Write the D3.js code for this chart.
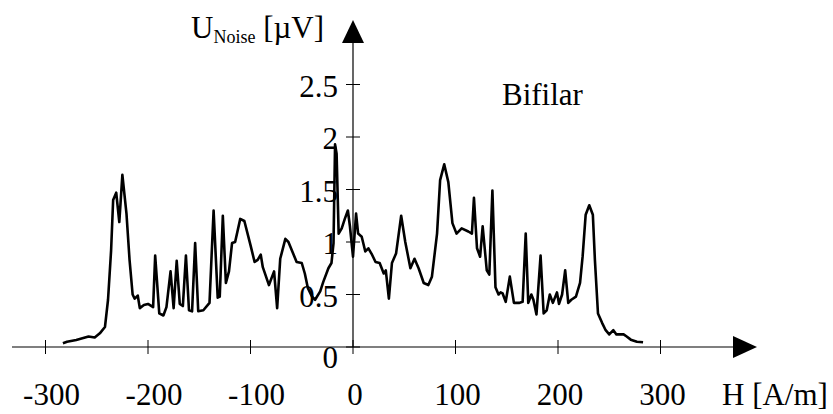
<!DOCTYPE html>
<html>
<head>
<meta charset="utf-8">
<script src="https://cdn.jsdelivr.net/npm/d3@7"></script>
<style>
  body { margin: 0; background: #fff; }
  svg text { font-family: "Liberation Serif", "Times New Roman", serif; fill: #000; }
</style>
</head>
<body>
<div id="chart"></div>
<script>
// Field values H [A/m]
const fieldH = [
  -283, -279, -270, -258, -252, -247, -242, -239, -236, -234, -231, -228, -225, -221, -218,
  -215, -213, -210, -208, -204, -200, -195, -193, -189, -185, -182, -178, -175, -172, -169,
  -166, -163, -160, -157, -154, -151, -146, -140, -136, -132, -130, -127, -124, -121, -118,
  -115, -110, -106, -100, -96, -93, -90, -88, -82, -77, -74, -71, -66, -63, -58,
  -55, -50, -47, -44, -40, -37, -32, -29, -24, -21, -19, -17.5, -16, -14, -11,
  -8, -5, -3, 0, 3, 5, 8.5, 12, 15, 18, 22, 26, 30, 32, 35,
  38, 42, 47, 51, 56, 60, 64, 69, 73.5, 77, 82, 85, 89, 93, 97,
  101, 106, 112.5, 116, 118, 121, 124, 126.5, 130.5, 133, 136, 139, 142, 144, 146,
  149, 153, 157, 162, 165.5, 168.5, 171, 174, 176, 179, 183, 186, 189, 192, 195,
  199, 201, 204, 207, 210, 213, 217.5, 221.5, 224, 227, 230.5, 234, 236, 239, 243,
  246.5, 250, 254, 257, 264, 267, 271, 277, 283
];

// Noise voltage U [µV]
const noiseU = [
  0.035, 0.05, 0.067, 0.10, 0.09, 0.13, 0.19, 0.45, 0.92, 1.40, 1.47, 1.19, 1.64, 1.27, 0.83,
  0.50, 0.46, 0.49, 0.37, 0.40, 0.41, 0.38, 0.87, 0.32, 0.30, 0.38, 0.72, 0.37, 0.82, 0.41,
  0.39, 0.87, 0.35, 0.34, 0.99, 0.34, 0.35, 0.42, 1.30, 0.47, 0.48, 1.25, 0.61, 0.72, 0.99,
  1.00, 1.22, 1.20, 0.97, 0.81, 0.83, 0.88, 0.76, 0.59, 0.72, 0.37, 0.84, 1.03, 1.00, 0.88,
  0.81, 0.80, 0.70, 0.56, 0.48, 0.45, 0.53, 0.62, 0.75, 0.80, 0.99, 1.93, 1.84, 1.08, 1.13,
  1.22, 1.30, 1.15, 0.86, 1.27, 1.08, 1.05, 0.91, 0.94, 0.89, 0.81, 0.80, 0.70, 0.73, 0.46,
  0.80, 0.89, 1.25, 1.00, 0.75, 0.84, 0.75, 0.61, 0.59, 0.67, 1.08, 1.59, 1.74, 1.57, 1.18,
  1.08, 1.13, 1.10, 1.08, 1.42, 0.94, 0.86, 1.15, 0.73, 0.69, 1.49, 0.57, 0.50, 0.52, 0.51,
  0.43, 0.67, 0.42, 0.42, 0.43, 1.08, 0.42, 0.50, 0.45, 0.31, 0.87, 0.32, 0.35, 0.50, 0.42,
  0.52, 0.41, 0.50, 0.73, 0.42, 0.45, 0.48, 0.61, 0.86, 1.26, 1.35, 1.26, 0.83, 0.32, 0.23,
  0.16, 0.12, 0.16, 0.12, 0.12, 0.10, 0.07, 0.05, 0.045
];

const xTicks = [-300, -200, -100, 0, 100, 200, 300];
const yTicks = [0, 0.5, 1, 1.5, 2, 2.5];
const xTickLabels = ['-300', '-200', '-100', '0', '100', '200', '300'];
const yTickLabels = ['0', '0.5', '1', '1.5', '2', '2.5'];

const width = 833;
const height = 414;

const svg = d3.select('#chart').append('svg')
    .attr('width', width)
    .attr('height', height);

// Scales (origin of the axes at H = 0, U = 0)
const x = d3.scaleLinear().domain([-300, 300]).range([45.5, 660.5]);
const y = d3.scaleLinear().domain([0, 2.5]).range([347, 84.5]);

const x0 = x(0);
const y0 = y(0);
const fs = 31;

// X axis with arrow
svg.append('line')
    .attr('x1', 12).attr('x2', 735)
    .attr('y1', y0).attr('y2', y0)
    .attr('stroke', '#000').attr('stroke-width', 1.2);

svg.append('path')
    .attr('d', `M733,${y0 - 11} L757,${y0} L733,${y0 + 11} Z`)
    .attr('fill', '#000');

svg.selectAll('.x-tick')
    .data(xTicks)
    .enter()
    .append('line')
    .attr('class', 'x-tick')
    .attr('x1', d => x(d)).attr('x2', d => x(d))
    .attr('y1', y0 - 7).attr('y2', y0 + 7)
    .attr('stroke', '#000').attr('stroke-width', 1);

svg.selectAll('.x-label')
    .data(xTicks)
    .enter()
    .append('text')
    .attr('class', 'x-label')
    .attr('x', d => x(d) + (d < 0 ? 6 : 2))
    .attr('y', 405)
    .attr('text-anchor', 'middle')
    .style('font-size', fs + 'px')
    .text((d, i) => xTickLabels[i]);

// Y axis with arrow
svg.append('line')
    .attr('x1', x0).attr('x2', x0)
    .attr('y1', y0).attr('y2', 42)
    .attr('stroke', '#000').attr('stroke-width', 1.2);

svg.append('path')
    .attr('d', `M${x0 - 11},43 L${x0},20 L${x0 + 11},43 Z`)
    .attr('fill', '#000');

svg.selectAll('.y-tick')
    .data(yTicks)
    .enter()
    .append('line')
    .attr('class', 'y-tick')
    .attr('x1', x0 - 7).attr('x2', x0 + 7)
    .attr('y1', d => y(d)).attr('y2', d => y(d))
    .attr('stroke', '#000').attr('stroke-width', 1);

svg.selectAll('.y-label')
    .data(yTicks)
    .enter()
    .append('text')
    .attr('class', 'y-label')
    .attr('x', 338)
    .attr('y', d => y(d) + (d === 0 ? 21 : 12))
    .attr('text-anchor', 'end')
    .style('font-size', fs + 'px')
    .text((d, i) => yTickLabels[i]);

// Noise curve
const points = fieldH.map((h, i) => [h, noiseU[i]]);

const line = d3.line()
    .x(d => x(d[0]))
    .y(d => y(d[1]));

svg.append('path')
    .datum(points)
    .attr('d', line)
    .attr('fill', 'none')
    .attr('stroke', '#000')
    .attr('stroke-width', 2.6)
    .attr('stroke-linejoin', 'round');

// Axis titles
const yTitle = svg.append('text')
    .attr('x', 191)
    .attr('y', 38)
    .style('font-size', fs + 'px');
yTitle.append('tspan').text('U');
yTitle.append('tspan').attr('dy', 5).style('font-size', '18px').text('Noise');
yTitle.append('tspan').attr('dy', -5).text('\u00a0[µV]');

svg.append('text')
    .attr('x', 722)
    .attr('y', 405)
    .style('font-size', fs + 'px')
    .text('H [A/m]');

svg.append('text')
    .attr('x', 502)
    .attr('y', 105)
    .style('font-size', fs + 'px')
    .text('Bifilar');
</script>
</body>
</html>
